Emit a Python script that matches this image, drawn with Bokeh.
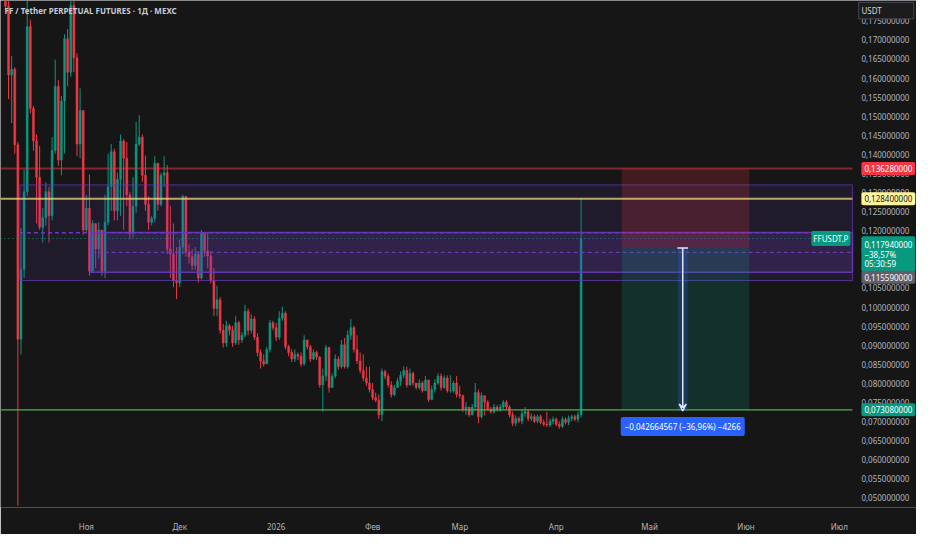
import pandas as pd
from bokeh.plotting import figure
from bokeh.models import (Range1d, FixedTicker, CustomJSTickFormatter, Label,
                          Arrow, VeeHead, ColumnDataSource)
from bokeh.core.properties import value
from bokeh.embed import file_html
from bokeh.resources import INLINE

title_text = "FF / Tether PERPETUAL FUTURES · 1Д · MEXC"
start_date = "2025-10-06"
first_open = 0.1828

close = [
    0.1788, 0.1608, 0.1623, 0.1425, 0.0916, 0.1099, 0.1302, 0.1735, 0.1520, 0.1435,
    0.1340, 0.1209, 0.1234, 0.1302, 0.1239, 0.1410, 0.1578, 0.1385, 0.1540, 0.1703,
    0.1615, 0.1790, 0.1653, 0.1427, 0.1515, 0.1202, 0.1259, 0.1094, 0.1219,
    0.1152, 0.1202, 0.1094, 0.1222, 0.1315, 0.1407, 0.1252, 0.1335, 0.1435, 0.1390,
    0.1294, 0.1194, 0.1264, 0.1427, 0.1445, 0.1345, 0.1269, 0.1222, 0.1232, 0.1377,
    0.1269, 0.1345, 0.1352, 0.1152, 0.1139, 0.1069, 0.1064, 0.1157, 0.1290, 0.1144,
    0.1132, 0.1109, 0.1139, 0.1076, 0.1194, 0.1147, 0.1134,
    0.1069, 0.0996, 0.1019, 0.0939, 0.0906, 0.0951, 0.0939, 0.0906, 0.0959, 0.0914,
    0.0926, 0.0989, 0.0939, 0.0969, 0.0921, 0.0881, 0.0859, 0.0851, 0.0889, 0.0959,
    0.0946, 0.0921, 0.0971, 0.0984, 0.0896, 0.0881, 0.0864, 0.0876, 0.0871, 0.0851,
    0.0914, 0.0896, 0.0864, 0.0881, 0.0869, 0.0796, 0.0819,
    0.0894, 0.0789, 0.0819, 0.0864, 0.0844, 0.0901, 0.0844, 0.0926, 0.0946, 0.0889,
    0.0859, 0.0834, 0.0814, 0.0801, 0.0784, 0.0763, 0.0756, 0.0718, 0.0831, 0.0819,
    0.0796, 0.0771, 0.0789, 0.0806, 0.0821, 0.0834, 0.0796, 0.0826, 0.0801, 0.0789,
    0.0801, 0.0781, 0.0809, 0.0758, 0.0784, 0.0801, 0.0819, 0.0789, 0.0814, 0.0781,
    0.0781, 0.0801, 0.0771, 0.0768, 0.0731, 0.0738, 0.0718, 0.0738, 0.0776, 0.0713,
    0.0768, 0.0751, 0.0733, 0.0726, 0.0738, 0.0731, 0.0738, 0.0751, 0.0738, 0.0718,
    0.0696, 0.0708, 0.0701, 0.0721, 0.0726, 0.0708, 0.0713, 0.0701, 0.0713, 0.0698,
    0.0693, 0.0691, 0.0701, 0.0706, 0.0693, 0.0688, 0.0706, 0.0698, 0.0708, 0.0713,
    0.0706, 0.0718, 0.11794,
]

high = [
    0.1853, 0.1803, 0.1658, 0.1628, 0.1432, 0.1207, 0.1360, 0.1803, 0.1753, 0.1527,
    0.1452, 0.1422, 0.1259, 0.1327, 0.1315, 0.1445, 0.1648, 0.1595, 0.1553, 0.1715,
    0.1728, 0.1816, 0.1803, 0.1665, 0.1573, 0.1515, 0.1294, 0.1347, 0.1227,
    0.1214, 0.1222, 0.1202, 0.1294, 0.1402, 0.1427, 0.1415, 0.1352, 0.1452, 0.1440,
    0.1432, 0.1302, 0.1340, 0.1485, 0.1502, 0.1452, 0.1397, 0.1290, 0.1239, 0.1395,
    0.1377, 0.1352, 0.1395, 0.1372, 0.1264, 0.1219, 0.1157, 0.1177, 0.1294, 0.1257,
    0.1164, 0.1152, 0.1157, 0.1147, 0.1202, 0.1189, 0.1194,
    0.1147, 0.1102, 0.1056, 0.1026, 0.0956, 0.0964, 0.0956, 0.0951, 0.0976, 0.0964,
    0.0934, 0.1006, 0.0996, 0.0981, 0.0976, 0.0931, 0.0889, 0.0876, 0.0896, 0.0966,
    0.0964, 0.0959, 0.0989, 0.1001, 0.0989, 0.0901, 0.0889, 0.0889, 0.0881, 0.0881,
    0.0926, 0.0911, 0.0901, 0.0889, 0.0886, 0.0871, 0.0839,
    0.0901, 0.0896, 0.0826, 0.0876, 0.0871, 0.0914, 0.0919, 0.0939, 0.0969, 0.0951,
    0.0926, 0.0881, 0.0876, 0.0844, 0.0844, 0.0801, 0.0776, 0.0771, 0.0839, 0.0836,
    0.0826, 0.0806, 0.0796, 0.0814, 0.0831, 0.0844, 0.0844, 0.0839, 0.0831, 0.0801,
    0.0811, 0.0806, 0.0819, 0.0806, 0.0794, 0.0811, 0.0826, 0.0826, 0.0821, 0.0821,
    0.0821, 0.0806, 0.0819, 0.0794, 0.0771, 0.0751, 0.0738, 0.0746, 0.0801, 0.0784,
    0.0776, 0.0763, 0.0756, 0.0738, 0.0746, 0.0743, 0.0746, 0.0756, 0.0756, 0.0743,
    0.0726, 0.0716, 0.0713, 0.0731, 0.0738, 0.0731, 0.0721, 0.0718, 0.0718, 0.0718,
    0.0706, 0.0726, 0.0708, 0.0713, 0.0711, 0.0701, 0.0713, 0.0711, 0.0716, 0.0718,
    0.0718, 0.0726, 0.1284,
]

low = [
    0.1778, 0.1545, 0.1482, 0.1402, 0.0480, 0.0876, 0.1076, 0.1290, 0.1507, 0.1410,
    0.1219, 0.1202, 0.1169, 0.1214, 0.1169, 0.1227, 0.1402, 0.1370, 0.1345, 0.1402,
    0.1578, 0.1603, 0.1615, 0.1395, 0.1390, 0.1189, 0.1197, 0.1082, 0.1089,
    0.1102, 0.1127, 0.1082, 0.1076, 0.1214, 0.1252, 0.1227, 0.1227, 0.1239, 0.1202,
    0.1264, 0.1177, 0.1182, 0.1247, 0.1422, 0.1327, 0.1252, 0.1202, 0.1214, 0.1222,
    0.1252, 0.1264, 0.1315, 0.1139, 0.1076, 0.1052, 0.1021, 0.1052, 0.1139, 0.1132,
    0.1114, 0.1097, 0.1097, 0.1064, 0.1072, 0.1132, 0.1102,
    0.1062, 0.0976, 0.0976, 0.0931, 0.0894, 0.0896, 0.0926, 0.0896, 0.0901, 0.0901,
    0.0906, 0.0921, 0.0926, 0.0931, 0.0914, 0.0871, 0.0839, 0.0844, 0.0851, 0.0881,
    0.0939, 0.0911, 0.0914, 0.0964, 0.0889, 0.0871, 0.0856, 0.0856, 0.0861, 0.0844,
    0.0846, 0.0889, 0.0856, 0.0861, 0.0861, 0.0789, 0.0726,
    0.0806, 0.0776, 0.0789, 0.0814, 0.0836, 0.0839, 0.0839, 0.0839, 0.0914, 0.0881,
    0.0851, 0.0826, 0.0806, 0.0794, 0.0776, 0.0756, 0.0751, 0.0706, 0.0701, 0.0811,
    0.0789, 0.0763, 0.0766, 0.0789, 0.0794, 0.0814, 0.0789, 0.0794, 0.0794, 0.0784,
    0.0784, 0.0776, 0.0781, 0.0751, 0.0756, 0.0776, 0.0796, 0.0781, 0.0786, 0.0776,
    0.0776, 0.0776, 0.0763, 0.0761, 0.0726, 0.0718, 0.0713, 0.0716, 0.0731, 0.0696,
    0.0708, 0.0716, 0.0728, 0.0721, 0.0721, 0.0726, 0.0726, 0.0731, 0.0733, 0.0711,
    0.0688, 0.0688, 0.0696, 0.0693, 0.0713, 0.0701, 0.0701, 0.0696, 0.0696, 0.0693,
    0.0688, 0.0686, 0.0686, 0.0693, 0.0688, 0.0681, 0.0683, 0.0693, 0.0691, 0.0701,
    0.0701, 0.0698, 0.0711,
]

price_ticks = [0.050, 0.055, 0.060, 0.065, 0.070, 0.075, 0.080, 0.085, 0.090, 0.095,
               0.100, 0.105, 0.110, 0.115, 0.120, 0.125, 0.130, 0.135, 0.140, 0.145,
               0.150, 0.155, 0.160, 0.165, 0.170, 0.175]
month_ticks = ["2025-11-01", "2025-12-01", "2026-01-01", "2026-02-01", "2026-03-01",
               "2026-04-01", "2026-05-01", "2026-06-01", "2026-07-01"]
month_names = ["Янв", "Фев", "Мар", "Апр", "Май", "Июн", "Июл", "Авг", "Сен", "Окт", "Ноя", "Дек"]

# horizontal levels / drawings
stop_price = 0.13628
level_price = 0.1284
entry_price = 0.11559
tp_price = 0.07308
last_price = 0.11794
zone1_top, zone1_bottom = 0.1320, 0.10695
zone2_top, zone2_bottom = 0.1195, 0.10913
measure_top, measure_bottom = 0.11544, 0.07277
zone1_start = "2025-10-10 16:00"
zone2_start = "2025-11-02 10:00"
pos_start, pos_end = "2026-04-22 02:00", "2026-06-02 02:00"
measure_x = "2026-05-11 16:00"
x_start, plot_end, x_end = "2025-10-04 10:00", "2026-07-05 05:00", "2026-07-25 19:00"
scale_x = "2026-07-08 02:00"
unit_box_x = ("2026-07-07 05:00", "2026-07-24 22:00")
unit_box_y = (0.1755, 0.1798)
y_start, y_end = 0.0475, 0.1803

measure_text = "−0,042664567 (−36,96%) −4266"
last_tag_text = "0,117940000\n−38,57%\n05:30:59"

UP, DOWN = "#089981", "#f23645"
BG = "#161616"
FONT = "Noto Sans"
FS = "8px"
DAY = 86400000.0


def ms(s):
    return pd.Timestamp(s).value / 1e6


dates = pd.date_range(start_date, periods=len(close), freq="D")
opens = [first_open] + close[:-1]
hi = [max(h, o, c) for h, o, c in zip(high, opens, close)]
lo = [min(l, o, c) for l, o, c in zip(low, opens, close)]
colors = [UP if c >= o else DOWN for o, c in zip(opens, close)]
src = ColumnDataSource(dict(x=dates, o=opens, c=close, h=hi, l=lo, color=colors,
                            top=[max(o, c) for o, c in zip(opens, close)],
                            bottom=[min(o, c) for o, c in zip(opens, close)]))

p = figure(width=916, height=534, x_axis_type="datetime", output_backend="svg",
           toolbar_location=None, y_axis_location=None,
           x_range=Range1d(ms(x_start), ms(x_end)), y_range=Range1d(y_start, y_end),
           background_fill_color=BG, border_fill_color=BG, outline_line_color=None,
           min_border_left=0, min_border_top=0, min_border_right=0, min_border_bottom=0)
p.grid.grid_line_color = None

# time axis
p.xaxis.ticker = FixedTicker(ticks=[ms(m) for m in month_ticks])
p.xaxis.formatter = CustomJSTickFormatter(
    args=dict(names=month_names),
    code="const d = new Date(tick); const m = d.getUTCMonth();"
         "return m === 0 ? String(d.getUTCFullYear()) : names[m];")
ax = p.xaxis[0]
ax.axis_line_color = None
ax.major_tick_line_color = None
ax.minor_tick_line_color = None
ax.major_label_text_color = "#b2b5be"
ax.major_label_text_font = FONT
ax.major_label_text_font_size = FS
ax.major_label_standoff = 7

xe = ms(plot_end)
sx = ms(scale_x)

# price scale (drawn on the right of the plotting area)
p.text(x=[sx] * len(price_ticks), y=price_ticks,
       text=[f"{v:.9f}".replace(".", ",") for v in price_ticks],
       text_font=value(FONT), text_font_size=FS, text_color="#b2b5be",
       text_baseline="middle", text_align="left")

# candles
p.segment(x0="x", y0="h", x1="x", y1="l", color="color", line_width=1, source=src)
p.vbar(x="x", width=0.62 * DAY, top="top", bottom="bottom", fill_color="color",
       line_color="color", line_width=0.5, source=src)

# zones
p.quad(left=[ms(zone1_start)], right=[xe], top=[zone1_top], bottom=[zone1_bottom],
       fill_color="#673ab7", fill_alpha=0.13, line_color="#673ab7", line_alpha=0.75, line_width=1)
p.segment(x0=[ms(zone1_start)], x1=[xe], y0=[(zone1_top + zone1_bottom) / 2],
          y1=[(zone1_top + zone1_bottom) / 2], line_color="#673ab7", line_width=1.5, line_dash="4 3")
p.quad(left=[ms(zone2_start)], right=[xe], top=[zone2_top], bottom=[zone2_bottom],
       fill_color="#673ab7", fill_alpha=0.22, line_color="#673ab7", line_alpha=0.9, line_width=1.5)
p.segment(x0=[ms(zone2_start)], x1=[xe], y0=[(zone2_top + zone2_bottom) / 2],
          y1=[(zone2_top + zone2_bottom) / 2], line_color="#673ab7", line_width=1.2, line_dash="4 3")

# position tool
p.quad(left=[ms(pos_start)], right=[ms(pos_end)], top=[stop_price], bottom=[entry_price],
       fill_color=DOWN, fill_alpha=0.2, line_color=None)
p.quad(left=[ms(pos_start)], right=[ms(pos_end)], top=[entry_price], bottom=[tp_price],
       fill_color=UP, fill_alpha=0.2, line_color=None)

# levels
x0 = ms(x_start)
p.segment(x0=[x0], x1=[xe], y0=[stop_price], y1=[stop_price], line_color=DOWN, line_alpha=0.5, line_width=2)
p.segment(x0=[x0], x1=[xe], y0=[level_price], y1=[level_price], line_color="#f0d77a", line_alpha=0.75, line_width=2)
p.segment(x0=[x0], x1=[xe], y0=[tp_price], y1=[tp_price], line_color="#4caf50", line_width=1.2)
p.segment(x0=[x0], x1=[xe], y0=[last_price], y1=[last_price], line_color=UP, line_width=1, line_dash="1 3")

# measure tool
mx = ms(measure_x)
p.quad(left=[mx - 1.6 * DAY], right=[mx + 1.6 * DAY], top=[measure_top], bottom=[measure_bottom],
       fill_color="#2962ff", fill_alpha=0.22, line_color=None)
p.segment(x0=[mx - 1.7 * DAY], x1=[mx + 1.7 * DAY], y0=[measure_top], y1=[measure_top],
          line_color="#e0e6f5", line_width=1.5)
p.add_layout(Arrow(end=VeeHead(size=7, line_color="#e0e6f5", line_width=1.5, fill_color=None),
                   x_start=mx, y_start=measure_top, x_end=mx, y_end=measure_bottom,
                   line_color="#e0e6f5", line_width=1.5))
p.add_layout(Label(x=mx, y=0.0687, text=measure_text, text_align="center", text_baseline="middle",
                   text_color="white", text_font=FONT, text_font_size=FS,
                   background_fill_color="#2962ff", padding=4, border_radius=2))

# title
p.add_layout(Label(x=x0, y=0.1776, x_offset=4, text=title_text, text_baseline="middle",
                   text_color="#c9ccd4", text_font=FONT, text_font_size="8px",
                   text_font_style="bold"))


def tag(y, text, bg, fg="white", baseline="middle", align="left", x=None, xoff=0, pad=3, lh=1.2):
    p.add_layout(Label(x=sx if x is None else x, y=y, x_offset=xoff, text=text, text_align=align,
                       text_baseline=baseline, text_color=fg, text_font=FONT,
                       text_font_size=FS, background_fill_color=bg, text_line_height=lh,
                       padding=pad, border_radius=2))


tag(stop_price, "0,136280000", DOWN)
tag(level_price, "0,128400000", "#fff59d", fg="#131722")
tag(0.11855, last_tag_text, UP, baseline="top", lh=0.85)
tag(0.1078, "0,115590000", "#5d606b")
tag(tp_price, "0,073080000", UP)
tag(last_price, "FFUSDT.P", UP, align="right", x=xe, xoff=-2, pad=2)

# currency box at the top of the price scale
p.quad(left=[ms(unit_box_x[0])], right=[ms(unit_box_x[1])], bottom=[unit_box_y[0]], top=[unit_box_y[1]],
       fill_color="#1c1c1c", line_color="#434651", line_width=1)
p.text(x=[sx], y=[(unit_box_y[0] + unit_box_y[1]) / 2], text=["USDT"], text_font=value(FONT),
       text_font_size=FS, text_color="#d1d4dc", text_baseline="middle", text_align="left")

open("out.html", "w").write(file_html(p, INLINE))
